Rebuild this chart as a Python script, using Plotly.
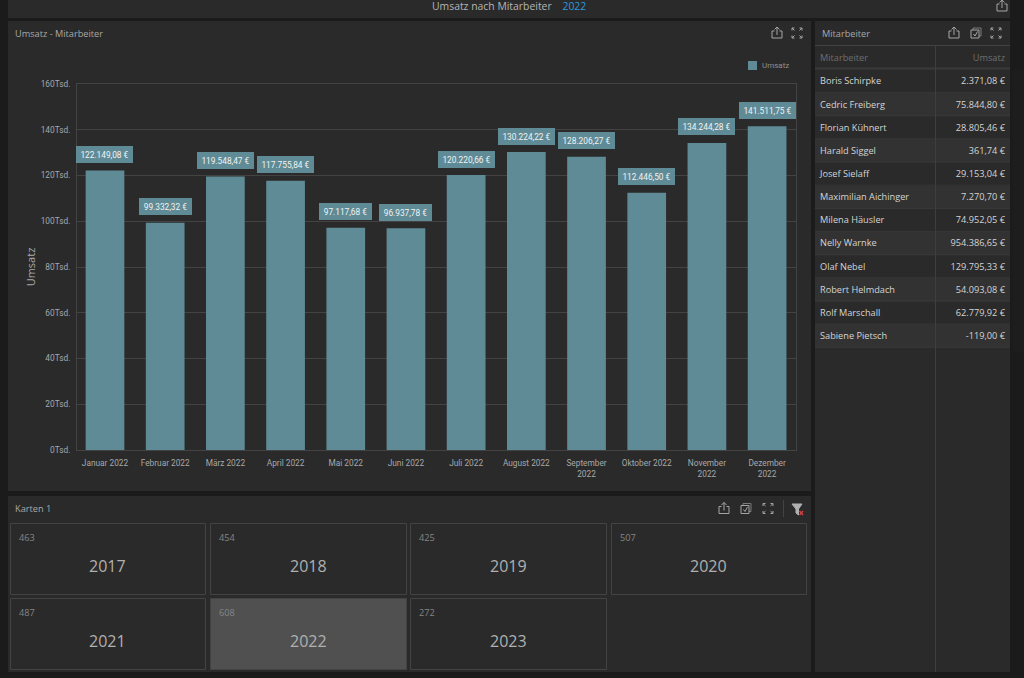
import plotly.graph_objects as go

W, H = 1024, 678
FONT = "Open Sans"
SMALL = "Roboto"

months = ["Januar 2022", "Februar 2022", "März 2022", "April 2022", "Mai 2022", "Juni 2022",
          "Juli 2022", "August 2022", "September 2022", "Oktober 2022", "November 2022", "Dezember 2022"]
month_ticks = ["Januar 2022", "Februar 2022", "März 2022", "April 2022", "Mai 2022", "Juni 2022",
               "Juli 2022", "August 2022", "September<br>2022", "Oktober 2022", "November<br>2022", "Dezember<br>2022"]
umsatz = [122149.08, 99332.32, 119548.47, 117755.84, 97117.68, 96937.78,
          120220.66, 130224.22, 128206.27, 112446.50, 134244.28, 141511.75]
umsatz_text = ["122.149,08 €", "99.332,32 €", "119.548,47 €", "117.755,84 €", "97.117,68 €", "96.937,78 €",
               "120.220,66 €", "130.224,22 €", "128.206,27 €", "112.446,50 €", "134.244,28 €", "141.511,75 €"]
y_ticks = [0, 20000, 40000, 60000, 80000, 100000, 120000, 140000, 160000]
y_tick_text = ["0Tsd.", "20Tsd.", "40Tsd.", "60Tsd.", "80Tsd.", "100Tsd.", "120Tsd.", "140Tsd.", "160Tsd."]

mitarbeiter = ["Boris Schirpke", "Cedric Freiberg", "Florian Kühnert", "Harald Siggel", "Josef Sielaff",
               "Maximilian Aichinger", "Milena Häusler", "Nelly Warnke", "Olaf Nebel", "Robert Helmdach",
               "Rolf Marschall", "Sabiene Pietsch"]
mitarbeiter_umsatz = ["2.371,08 €", "75.844,80 €", "28.805,46 €", "361,74 €", "29.153,04 €", "7.270,70 €",
                      "74.952,05 €", "954.386,65 €", "129.795,33 €", "54.093,08 €", "62.779,92 €", "-119,00 €"]

card_years = ["2017", "2018", "2019", "2020", "2021", "2022", "2023"]
card_counts = ["463", "454", "425", "507", "487", "608", "272"]
selected_year = "2022"

BG = "#1b1b1b"
PANEL = "#2a2a2a"
LINE = "#434343"
TEAL = "#5f8b96"
TXT = "#a8a8a8"


def px(x):
    return x / W


def py(y):
    return 1 - y / H


shapes = []
ann = []


def rect(x0, y0, x1, y1, fill=None, line=None, lw=1):
    shapes.append(dict(type="rect", xref="paper", yref="paper", layer="below",
                       x0=px(x0), x1=px(x1), y0=py(y0), y1=py(y1),
                       fillcolor=fill if fill else "rgba(0,0,0,0)",
                       line=dict(color=line if line else "rgba(0,0,0,0)", width=lw if line else 0)))


def seg(x0, y0, x1, y1, color=LINE, lw=1, layer="below"):
    shapes.append(dict(type="line", xref="paper", yref="paper", layer=layer,
                       x0=px(x0), x1=px(x1), y0=py(y0), y1=py(y1),
                       line=dict(color=color, width=lw)))


def path(points, color="#a6a6a6", lw=1, fill=None):
    d = "M" + " L".join(f"{px(a):.5f},{py(b):.5f}" for a, b in points)
    if fill:
        d += " Z"
    shapes.append(dict(type="path", xref="paper", yref="paper", layer="above", path=d,
                       fillcolor=fill if fill else "rgba(0,0,0,0)", line=dict(color=color, width=lw)))


def text(x, y, s, size=10, color=TXT, anchor="left", family=FONT):
    ann.append(dict(xref="paper", yref="paper", x=px(x), y=py(y), text=s, showarrow=False,
                    xanchor=anchor, yanchor="middle", font=dict(size=size, color=color, family=family),
                    borderpad=0))


def share(cx, cy):
    path([(cx - 2.5, cy - 2), (cx - 5, cy - 2), (cx - 5, cy + 5), (cx + 5, cy + 5), (cx + 5, cy - 2), (cx + 2.5, cy - 2)])
    path([(cx, cy + 2), (cx, cy - 6)])
    path([(cx - 2.5, cy - 3.5), (cx, cy - 6), (cx + 2.5, cy - 3.5)])


def expand(cx, cy):
    d, e = 5, 2.5
    for sx in (-1, 1):
        for sy in (-1, 1):
            path([(cx + sx * d, cy + sy * (d - e)), (cx + sx * d, cy + sy * d), (cx + sx * (d - e), cy + sy * d)], lw=1)
            path([(cx + sx * d, cy + sy * d), (cx + sx * 2.5, cy + sy * 2.5)], lw=1)


def copycheck(cx, cy):
    path([(cx - 3, cy - 3), (cx - 3, cy - 5), (cx + 5, cy - 5), (cx + 5, cy + 3), (cx + 3, cy + 3)], color="#7a7a7a")
    path([(cx - 5, cy - 3), (cx + 3, cy - 3), (cx + 3, cy + 5), (cx - 5, cy + 5), (cx - 5, cy - 3)])
    path([(cx - 2.5, cy + 1), (cx - 1, cy + 3), (cx + 1.5, cy - 1.5)])


# page and panels
rect(8, 0, 1010, 18, PANEL)
rect(8, 21, 811, 491, PANEL)
rect(8, 496, 811, 672, PANEL)
rect(815, 21, 1010, 672, PANEL)

# header
ann.append(dict(xref="paper", yref="paper", x=px(509), y=py(6.5), showarrow=False, xanchor="center", yanchor="middle",
                text="Umsatz nach Mitarbeiter&nbsp;&nbsp;&nbsp;&nbsp;<span style='color:#2b9ad6'>2022</span>",
                font=dict(size=10.4, color="#b4b4b4", family=FONT)))
text(13.5, 33.5, "Umsatz - Mitarbeiter", 9.2)
text(820.5, 33.5, "Mitarbeiter", 9.2)
text(13.5, 508.5, "Karten 1", 9.2)

share(1002, 6)
share(777, 33); expand(797, 33)
share(954, 33); copycheck(976, 33); expand(996, 33)
share(724, 508.5); copycheck(746, 508.5); expand(768, 508.5)
seg(783.5, 500, 783.5, 517, layer="above")
path([(792, 504), (802, 504), (798.5, 509), (798.5, 515), (796, 513), (796, 509)], color="#b0b0b0", fill="#b0b0b0")
path([(799.5, 511), (803, 515)], color="#d84040", lw=1.3)
path([(803, 511), (799.5, 515)], color="#d84040", lw=1.3)

# legend swatch and label
rect(748, 61, 757, 70, TEAL)
text(760.5, 65.5, "Umsatz", 8.0, "#8f8f8f", family=SMALL)

# table furniture
ROW0, ROWH = 69.5, 23.15
seg(815, 45.5, 1010, 45.5)
seg(815, 68.5, 1010, 68.5, color="#3a3a3a", lw=2)
for i in range(len(mitarbeiter)):
    top = ROW0 + i * ROWH
    if i % 2 == 1:
        rect(815, top, 1010, top + ROWH, "#323232")
    seg(815, top + ROWH, 1010, top + ROWH, color="#3a3a3a")
seg(935.5, 46, 935.5, 672, color="#3e3e3e")

# cards
card_x = [(10.5, 205.5), (210.5, 406.5), (410.5, 606.5), (611.5, 806.5)]
card_y = [(523.5, 594.5), (598.5, 669.5)]
for i, (yr, cnt) in enumerate(zip(card_years, card_counts)):
    x0, x1 = card_x[i % 4]
    y0, y1 = card_y[i // 4]
    rect(x0, y0, x1, y1, "#505050" if yr == selected_year else None, LINE)
    text(x0 + 7.5, y0 + 14, cnt, 9.2, "#858585")
    text((x0 + x1) / 2 - 0.5, y0 + 42.7, yr, 16, "#b0b0b0", "center")

PLOT_L, PLOT_R, PLOT_T, PLOT_B = 77, 796, 84, 450

fig = go.Figure()
fig.add_trace(go.Bar(x=months, y=umsatz, name="Umsatz", width=0.643, marker=dict(color=TEAL, line=dict(width=0)),
                     hoverinfo="skip", showlegend=False))

for m, v, t in zip(months, umsatz, umsatz_text):
    ann.append(dict(xref="x", yref="y", x=m, y=v, text=t, showarrow=False, xanchor="center", yanchor="bottom",
                    yshift=7.5, bgcolor=TEAL, bordercolor=TEAL, borderwidth=0, borderpad=1, height=15,
                    width=55 if len(t) == 12 else 51, align="center",
                    font=dict(size=8.3, color="#f2f2f2", family=SMALL)))

fig.add_trace(go.Table(
    domain=dict(x=[px(812), px(1013)], y=[py(352), py(46)]),
    columnwidth=[123, 78],
    header=dict(values=["Mitarbeiter", "Umsatz"], height=23.5, align=["left", "right"],
                fill=dict(color="rgba(0,0,0,0)"), line=dict(width=0, color="rgba(0,0,0,0)"),
                font=dict(size=9.2, color="#6f6f6f", family=FONT)),
    cells=dict(values=[mitarbeiter, mitarbeiter_umsatz], height=ROWH, align=["left", "right"],
               fill=dict(color="rgba(0,0,0,0)"), line=dict(width=0, color="rgba(0,0,0,0)"),
               font=dict(size=9.2, color="#d4d4d4", family=FONT)),
))

fig.update_layout(
    width=W, height=H, margin=dict(l=0, r=0, t=0, b=0, autoexpand=False),
    paper_bgcolor=BG, plot_bgcolor="rgba(0,0,0,0)",
    font=dict(family=SMALL, color=TXT, size=8.3),
    showlegend=False,
    xaxis=dict(domain=[px(PLOT_L), px(PLOT_R)], range=[-0.465, 11.48], type="category",
               categoryorder="array", categoryarray=months,
               tickmode="array", tickvals=months, ticktext=month_ticks, tickangle=0, showgrid=False,
               showline=True, linecolor=LINE, mirror=True, ticks="outside", ticklen=5, tickcolor="rgba(0,0,0,0)",
               tickfont=dict(size=8.3, color=TXT, family=SMALL), zeroline=False),
    yaxis=dict(domain=[py(PLOT_B), py(PLOT_T)], range=[0, 160000], tickmode="array", tickvals=y_ticks,
               ticktext=y_tick_text, showgrid=True, gridcolor=LINE, gridwidth=1, showline=True, linecolor=LINE,
               mirror=True, ticks="outside", ticklen=4, tickcolor="rgba(0,0,0,0)", zeroline=False,
               tickfont=dict(size=8.3, color=TXT, family=SMALL),
               title=dict(text="Umsatz", font=dict(size=11, color=TXT, family=FONT), standoff=2)),
    shapes=shapes, annotations=ann,
)

fig.write_html("out.html", config=dict(displayModeBar=False),
               post_script="document.body.style.margin='0';document.body.style.background='%s';" % BG)
